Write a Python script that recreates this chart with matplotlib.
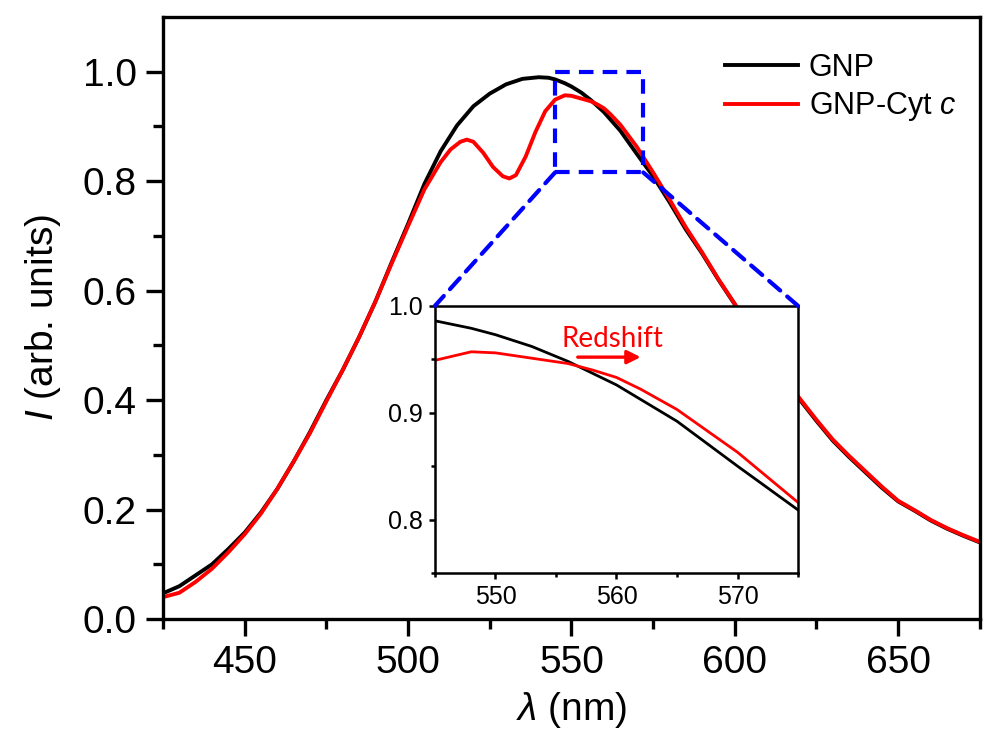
import matplotlib
matplotlib.use("Agg")
import matplotlib.pyplot as plt
from matplotlib.patches import Rectangle, ConnectionPatch
import numpy as np

plt.rcParams['font.family'] = ['Liberation Sans', 'DejaVu Sans']
plt.rcParams['mathtext.fontset'] = 'custom'
plt.rcParams['mathtext.rm'] = 'Liberation Sans'
plt.rcParams['mathtext.it'] = 'Liberation Sans:italic'

# GNP (black) spectrum
wl_gnp = [425, 430, 435, 440, 445, 450, 455, 460, 465, 470, 475, 480, 485, 490,
          495, 500, 505, 510, 515, 520, 525, 530, 535, 540, 543, 545, 548, 550,
          553, 556, 560, 565, 570, 575, 580, 585, 590, 595, 600, 605, 610, 615,
          620, 625, 630, 635, 640, 645, 650, 655, 660, 665, 670, 675]
i_gnp = [0.047, 0.060, 0.080, 0.100, 0.128, 0.158, 0.195, 0.238, 0.288, 0.342,
         0.400, 0.455, 0.515, 0.580, 0.652, 0.722, 0.795, 0.855, 0.902, 0.937,
         0.960, 0.977, 0.987, 0.990, 0.989, 0.986, 0.979, 0.973, 0.962, 0.948,
         0.926, 0.892, 0.850, 0.809, 0.762, 0.712, 0.668, 0.620, 0.575, 0.525,
         0.480, 0.440, 0.400, 0.362, 0.326, 0.296, 0.268, 0.240, 0.215, 0.198,
         0.180, 0.165, 0.152, 0.140]

# GNP-Cyt c (red) spectrum
wl_cyt = [425, 430, 435, 440, 445, 450, 455, 460, 465, 470, 475, 480, 485, 490,
          495, 500, 505, 510, 513, 516, 518, 520, 523, 526, 529, 531, 533, 536,
          539, 542, 545, 548, 550, 553, 556, 558, 560, 562, 565, 570, 575, 580,
          585, 590, 595, 600, 605, 610, 615, 620, 625, 630, 635, 640, 645, 650,
          655, 660, 665, 670, 675]
i_cyt = [0.040, 0.048, 0.068, 0.092, 0.122, 0.155, 0.193, 0.238, 0.288, 0.340,
         0.398, 0.455, 0.515, 0.580, 0.650, 0.718, 0.785, 0.835, 0.858, 0.872,
         0.876, 0.872, 0.852, 0.826, 0.809, 0.805, 0.811, 0.845, 0.890, 0.928,
         0.949, 0.957, 0.956, 0.951, 0.946, 0.940, 0.933, 0.922, 0.903, 0.863,
         0.816, 0.767, 0.716, 0.670, 0.621, 0.576, 0.527, 0.482, 0.442, 0.402,
         0.364, 0.328, 0.298, 0.270, 0.242, 0.216, 0.199, 0.181, 0.166, 0.153,
         0.141]

legend_labels = ['GNP', 'GNP-Cyt $\\mathit{c}$']

fig = plt.figure(figsize=(9.84, 7.4), dpi=100)
ax = fig.add_axes([0.1657, 0.1635, 0.830, 0.8135])

ax.plot(wl_gnp, i_gnp, color='black', lw=2.8, label=legend_labels[0])
ax.plot(wl_cyt, i_cyt, color='#ff0000', lw=2.8, label=legend_labels[1])

ax.set_xlim(425, 675)
ax.set_ylim(0, 1.1)
ax.set_xticks([450, 500, 550, 600, 650])
ax.set_xticks(np.arange(425, 676, 25), minor=True)
ax.set_yticks([0.0, 0.2, 0.4, 0.6, 0.8, 1.0])
ax.set_yticks(np.arange(0.1, 1.1, 0.2), minor=True)
ax.set_yticklabels(['0.0', '0.2', '0.4', '0.6', '0.8', '1.0'])
ax.tick_params(which='major', direction='out', length=12, width=2.4, labelsize=28, pad=7)
ax.tick_params(which='minor', direction='out', length=7, width=2.4)
for s in ax.spines.values():
    s.set_linewidth(2.4)

ax.set_xlabel('$\\mathit{\\lambda}$ (nm)', fontsize=28, labelpad=6)
ax.set_ylabel('$\\mathit{I}$ (arb. units)', fontsize=28, labelpad=14)

ax.legend(loc='upper left', bbox_to_anchor=(0.688, 0.94), frameon=False,
          fontsize=22, handlelength=2.4, handletextpad=0.35, labelspacing=0.24,
          borderpad=0, borderaxespad=0)

# dashed zoom box
ax.add_patch(Rectangle((545, 0.816), 27, 0.184, fill=False, edgecolor='#0000ff',
                       lw=3, ls=(0, (3.5, 2.2)), zorder=4))

# inset
axin = fig.add_axes([0.442, 0.2257, 0.369, 0.361])
axin.plot(wl_gnp, i_gnp, color='black', lw=2)
axin.plot(wl_cyt, i_cyt, color='#ff0000', lw=2)
axin.set_xlim(545, 575)
axin.set_ylim(0.75, 1.0)
axin.set_xticks([550, 560, 570])
axin.set_xticks([545, 555, 565, 575], minor=True)
axin.set_yticks([0.8, 0.9, 1.0])
axin.set_yticks([0.75, 0.85, 0.95], minor=True)
axin.set_yticklabels(['0.8', '0.9', '1.0'])
axin.tick_params(which='major', direction='out', length=4, width=1.8, labelsize=18, pad=5)
axin.tick_params(which='minor', direction='out', length=3, width=1.8)
for s in axin.spines.values():
    s.set_linewidth(1.8)

axin.text(559.7, 0.969, 'Redshift', color='#ff0000', fontsize=20,
          family=['Lato', 'DejaVu Sans'], ha='center', va='center')
axin.annotate('', xy=(562.0, 0.952), xytext=(556.8, 0.952),
              arrowprops=dict(arrowstyle='-|>', color='#ff0000', lw=2.4,
                              mutation_scale=20, shrinkA=0, shrinkB=0))

for xa, xb in [(545, 0), (572, 1)]:
    con = ConnectionPatch(xyA=(xa, 0.816), coordsA=ax.transData,
                          xyB=(xb, 1), coordsB=axin.transAxes,
                          color='#0000ff', lw=3, ls=(0, (3.5, 2.2)))
    fig.add_artist(con)

fig.savefig('out.png', dpi=100, facecolor='white')
